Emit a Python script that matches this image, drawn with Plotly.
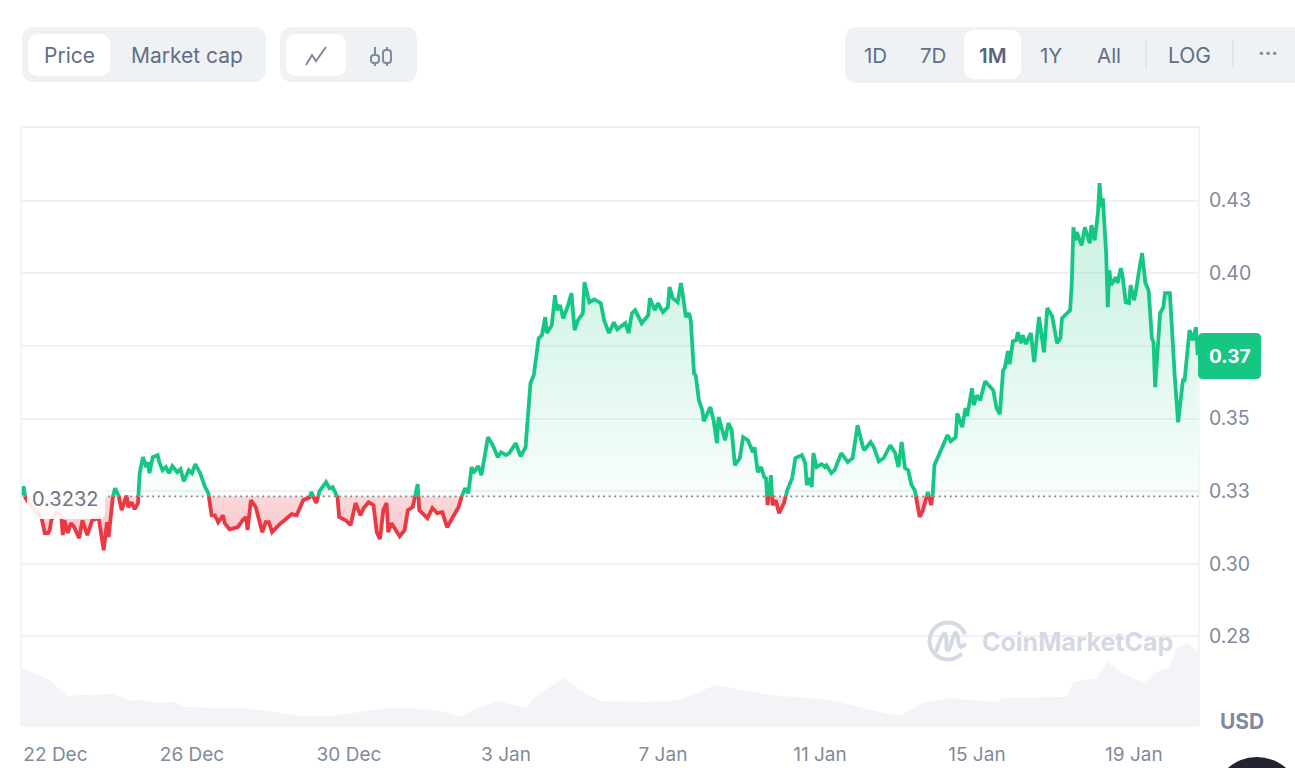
import numpy as np
import pandas as pd
import plotly.graph_objects as go

START = pd.Timestamp("2023-12-22 00:00")
BASE_PRICE = 0.3232

hours = [-8,-7,-6,-3,0,4,6,8,9,10,13,16,17,18,20,22,24,27,29,32,35,39,42,44,45,47,49,51,53,56,57,59,61,63,64,66,68,69,70,72,75,76,78,80,82,84,87,89,91,94,96,98,101,104,106,108,110,112,115,116,119,124,127,129,130,132,135,139,141,143,145,149,154,157,160,164,168,169,172,174,178,180,182,185,186,190,193,196,199,201,204,207,209,211,213,215,216,218,223,226,228,231,234,235,240,243,246,249,252,256,259,261,263,265,267,268,271,273,277,280,283,285,288,290,294,297,300,301,303,305,308,310,312,313,316,318,319,321,323,326,328,330,332,335,336,339,342,346,348,351,354,356,361,363,365,367,371,375,376,379,381,384,387,388,390,393,395,396,398,400,401,403,404,406,408,409,411,413,415,417,418,420,422,424,426,428,431,433,436,439,440,442,444,446,447,448,450,451,453,455,458,460,463,465,469,471,472,474,475,476,478,481,483,484,487,489,493,497,500,503,506,507,511,513,516,519,523,526,528,530,532,534,536,538,541,543,546,548,549,550,552,558,560,563,564,567,569,570,573,574,576,578,581,586,588,590,592,593,595,596,598,600,601,603,604,606,609,611,614,617,619,622,625,627,628,631,633,634,635,636,637,640,642,645,646,648,650,651,652,653,655,656,657,658,661,662,664,665,667,669,670,672,673,675,677,679,681,683,684,685,688,690,691,694,696,697,699,702,703,705,706,708,710,711]
prices = [0.3236,0.3267,0.3229,0.3202,0.3181,0.3157,0.3106,0.3106,0.3116,0.3150,0.3178,0.3167,0.3099,0.3150,0.3106,0.3140,0.3126,0.3088,0.3150,0.3099,0.3150,0.3157,0.3047,0.3143,0.3092,0.3219,0.3260,0.3236,0.3185,0.3236,0.3195,0.3212,0.3188,0.3209,0.3312,0.3367,0.3333,0.3350,0.3312,0.3367,0.3374,0.3350,0.3322,0.3333,0.3312,0.3336,0.3315,0.3326,0.3284,0.3322,0.3312,0.3343,0.3312,0.3264,0.3243,0.3167,0.3167,0.3143,0.3167,0.3140,0.3119,0.3126,0.3150,0.3161,0.3116,0.3219,0.3195,0.3109,0.3143,0.3143,0.3109,0.3133,0.3157,0.3171,0.3167,0.3219,0.3229,0.3247,0.3209,0.3250,0.3281,0.3260,0.3264,0.3229,0.3161,0.3150,0.3133,0.3209,0.3167,0.3192,0.3212,0.3202,0.3109,0.3085,0.3185,0.3209,0.3109,0.3140,0.3095,0.3116,0.3185,0.3195,0.3274,0.3185,0.3157,0.3192,0.3174,0.3178,0.3126,0.3167,0.3195,0.3233,0.3260,0.3243,0.3333,0.3312,0.3336,0.3305,0.3436,0.3408,0.3367,0.3384,0.3374,0.3381,0.3415,0.3370,0.3401,0.3477,0.3622,0.3649,0.3776,0.3787,0.3849,0.3794,0.3821,0.3924,0.3873,0.3890,0.3845,0.3890,0.3931,0.3804,0.3838,0.3862,0.3969,0.3900,0.3910,0.3897,0.3838,0.3794,0.3831,0.3807,0.3828,0.3794,0.3862,0.3873,0.3828,0.3855,0.3914,0.3873,0.3897,0.3866,0.3883,0.3952,0.3914,0.3900,0.3966,0.3931,0.3849,0.3862,0.3838,0.3656,0.3649,0.3563,0.3529,0.3491,0.3518,0.3539,0.3494,0.3415,0.3505,0.3470,0.3425,0.3484,0.3460,0.3339,0.3364,0.3436,0.3425,0.3384,0.3401,0.3315,0.3333,0.3298,0.3295,0.3202,0.3305,0.3202,0.3219,0.3174,0.3209,0.3253,0.3295,0.3364,0.3374,0.3346,0.3271,0.3295,0.3264,0.3381,0.3333,0.3343,0.3333,0.3339,0.3312,0.3322,0.3381,0.3350,0.3364,0.3477,0.3408,0.3391,0.3419,0.3401,0.3353,0.3364,0.3408,0.3381,0.3333,0.3419,0.3329,0.3322,0.3271,0.3253,0.3161,0.3185,0.3247,0.3202,0.3243,0.3339,0.3367,0.3443,0.3422,0.3436,0.3518,0.3470,0.3536,0.3508,0.3604,0.3546,0.3580,0.3563,0.3628,0.3597,0.3536,0.3515,0.3666,0.3673,0.3732,0.3687,0.3766,0.3769,0.3797,0.3759,0.3787,0.3756,0.3794,0.3694,0.3849,0.3728,0.3880,0.3852,0.3759,0.3776,0.3845,0.3862,0.3873,0.3966,0.4158,0.4113,0.4141,0.4096,0.4158,0.4103,0.4165,0.4113,0.4206,0.4310,0.4227,0.4258,0.4069,0.3883,0.4010,0.3959,0.3986,0.3966,0.4017,0.3993,0.3900,0.3897,0.3959,0.3907,0.3931,0.4003,0.4069,0.3966,0.3941,0.3776,0.3763,0.3608,0.3862,0.3883,0.3931,0.3931,0.3701,0.3642,0.3487,0.3632,0.3632,0.3769,0.3804,0.3769,0.3814,0.3718]

volume_hours = [-9,2,8,20,29,48,59,65,75,85,91,126,142,161,182,215,229,248,261,269,283,301,305,323,337,346,376,394,416,449,486,517,529,543,558,588,592,631,635,649,656,664,678,686,694,698,705,712]
volume_millions = [29.5,25.5,23.5,15,15.5,16,12.5,13,11.5,12,9.5,9,7.5,5,5,9,9,7.5,4.5,8.5,12.5,9,14,24,16,12.5,12,13,20.5,15.5,13,7,5,11.5,14,12,14,14.5,22,24,32,27,21.5,27,29.5,39,41.5,36.5]

price_ticks = [0.275,0.30,0.325,0.35,0.375,0.40,0.425]
price_tick_labels = ["0.28","0.30","0.33","0.35","","0.40","0.43"]
date_ticks = ["2023-12-22 12:30","2023-12-26","2023-12-30","2024-01-03","2024-01-07","2024-01-11","2024-01-15","2024-01-19"]
date_tick_labels = ["22 Dec","26 Dec","30 Dec","3 Jan","7 Jan","11 Jan","15 Jan","19 Jan"]

GREEN = "#16c784"
RED = "#ea3943"
GRID = "#eff2f5"
MUTED = "#808a9d"
BUTTON_TEXT = "#616e85"
FONT = "Inter"

# plot rectangle in the page
L, R, T, B = 21, 1199, 127, 726
W, H = 1295, 768
def X(px): return (px - L) / (R - L)
def Y(py): return (B - py) / (B - T)

def when(h):
    return [START + pd.Timedelta(hours=float(v)) for v in h]

# add the points where the line crosses the reference price, so colours switch cleanly
xs, ys = [hours[0]], [prices[0]]
for h0, p0, h1, p1 in zip(hours[:-1], prices[:-1], hours[1:], prices[1:]):
    if (p0 - BASE_PRICE) * (p1 - BASE_PRICE) < 0:
        xs.append(h0 + (BASE_PRICE - p0) / (p1 - p0) * (h1 - h0))
        ys.append(BASE_PRICE)
    xs.append(h1); ys.append(p1)
xs, ys = np.array(xs), np.array(ys)
upper = np.maximum(ys, BASE_PRICE)
lower = np.minimum(ys, BASE_PRICE)
line_up = np.where(ys >= BASE_PRICE, ys, np.nan)
line_down = np.where(ys <= BASE_PRICE, ys, np.nan)
t = when(xs)

fig = go.Figure()
fig.add_trace(go.Scatter(x=when(volume_hours), y=volume_millions, yaxis="y2", mode="lines",
                         line=dict(width=0), fill="tozeroy", fillcolor="#f3f4f7", hoverinfo="skip"))
fig.add_trace(go.Scatter(x=t, y=[BASE_PRICE]*len(t), mode="lines", line=dict(width=0), hoverinfo="skip"))
fig.add_trace(go.Scatter(x=t, y=upper, mode="lines", line=dict(width=0), fill="tonexty", hoverinfo="skip",
                         fillgradient=dict(type="vertical", start=BASE_PRICE, stop=0.40,
                                           colorscale=[[0,"rgba(22,199,132,0.03)"],[1,"rgba(22,199,132,0.20)"]])))
fig.add_trace(go.Scatter(x=t, y=[BASE_PRICE]*len(t), mode="lines", line=dict(width=0), hoverinfo="skip"))
fig.add_trace(go.Scatter(x=t, y=lower, mode="lines", line=dict(width=0), fill="tonexty", hoverinfo="skip",
                         fillgradient=dict(type="vertical", start=0.305, stop=BASE_PRICE,
                                           colorscale=[[0,"rgba(234,57,67,0.30)"],[1,"rgba(234,57,67,0.20)"]])))
fig.add_trace(go.Scatter(x=when([-9, 712]), y=[BASE_PRICE, BASE_PRICE], mode="lines", hoverinfo="skip",
                         line=dict(color="#777f8f", width=1.8, dash="1.8px,3.7px")))
fig.add_trace(go.Scatter(x=t, y=line_up, mode="lines", line=dict(color=GREEN, width=3.8), connectgaps=False))
fig.add_trace(go.Scatter(x=t, y=line_down, mode="lines", line=dict(color=RED, width=3.8), connectgaps=False))

def rrect(x0, y0, x1, y1, r):
    c = [f"M{X(x0+r)},{Y(y0)}", f"L{X(x1-r)},{Y(y0)}", f"Q{X(x1)},{Y(y0)} {X(x1)},{Y(y0+r)}",
         f"L{X(x1)},{Y(y1-r)}", f"Q{X(x1)},{Y(y1)} {X(x1-r)},{Y(y1)}", f"L{X(x0+r)},{Y(y1)}",
         f"Q{X(x0)},{Y(y1)} {X(x0)},{Y(y1-r)}", f"L{X(x0)},{Y(y0+r)}", f"Q{X(x0)},{Y(y0)} {X(x0+r)},{Y(y0)}", "Z"]
    return " ".join(c)

def poly(points):
    return "M" + " L".join(f"{X(a)},{Y(b)}" for a, b in points)

def solid(path, color, opacity=1):
    return dict(type="path", xref="paper", yref="paper", path=path, fillcolor=color,
                line=dict(width=0), opacity=opacity, layer="above")

def stroke(path, color, width):
    return dict(type="path", xref="paper", yref="paper", path=path, fillcolor="rgba(0,0,0,0)",
                line=dict(color=color, width=width), layer="above")

shapes = [
    solid(rrect(22, 27, 266, 82, 13), "#eff2f5"),
    solid(rrect(28, 34, 110, 76, 11), "#ffffff"),
    solid(rrect(280, 27, 417, 82, 13), "#eff2f5"),
    solid(rrect(286, 34, 346, 76, 11), "#ffffff"),
    solid(rrect(845, 27, 1320, 83, 13), "#eff2f5"),
    solid(rrect(964, 30, 1021, 79, 11), "#ffffff"),
    stroke(poly([(1146, 41), (1146, 68)]), "#cfd6e4", 1),
    stroke(poly([(1233, 41), (1233, 68)]), "#cfd6e4", 1),
    stroke(poly([(306, 65), (312, 55), (316, 61), (326, 47)]), MUTED, 2),
    stroke(poly([(375, 47), (375, 55)]), MUTED, 2),
    stroke(poly([(375, 63), (375, 66)]), MUTED, 2),
    stroke(poly([(387, 47), (387, 50)]), MUTED, 2),
    stroke(poly([(387, 63), (387, 66)]), MUTED, 2),
    stroke(rrect(371, 55, 379, 63, 3), MUTED, 2),
    stroke(rrect(383, 50, 391, 63, 3), MUTED, 2),
    # plot frame
    stroke(poly([(L, T), (R, T)]), GRID, 2),
    stroke(poly([(R, T), (R, B)]), GRID, 1.5),
    stroke(poly([(L, T), (L, B)]), GRID, 1.5),
    stroke(poly([(L, B), (R, B)]), GRID, 1),
    # reference price label
    solid(rrect(27, 485, 105, 519, 6), "#ffffff", 0.9),
    # current price tag
    solid(rrect(1198, 333, 1261, 379, 5), GREEN),
    # chat bubble, cut off by the page edge
    dict(type="circle", xref="paper", yref="paper", x0=X(1213), x1=X(1301), y0=Y(845), y1=Y(757),
         fillcolor="#222531", line=dict(width=0), layer="above"),
]

# watermark logo
a = np.radians(np.arange(50, 345, 12))
ring = [(948 + 18.5 * np.cos(v), 641 + 18.5 * np.sin(v)) for v in a]
ring = [(962, 654)] + ring
shapes.append(stroke(poly(ring), "#d5d9e5", 4))
shapes.append(stroke("M" + f"{X(936)},{Y(652)} " +
                     f"C{X(940)},{Y(640)} {X(943)},{Y(632)} {X(945)},{Y(634)} " +
                     f"C{X(948)},{Y(638)} {X(945)},{Y(650)} {X(948)},{Y(650)} " +
                     f"C{X(951)},{Y(650)} {X(953)},{Y(632)} {X(956)},{Y(633)} " +
                     f"C{X(959)},{Y(634)} {X(957)},{Y(646)} {X(961)},{Y(647)} L{X(966)},{Y(644)}",
                     "#d5d9e5", 4))

def text(px, py, s, size, color=BUTTON_TEXT, weight=400, anchor="center"):
    return dict(text=s, xref="paper", yref="paper", x=X(px), y=Y(py), xanchor=anchor, yanchor="middle",
                showarrow=False, font=dict(family=FONT, size=size, color=color, weight=weight))

annotations = [
    text(69, 55, "Price", 21),
    text(187, 55, "Market cap", 21),
    text(875, 55, "1D", 20.5),
    text(933, 55, "7D", 20.5),
    text(993, 55, "1M", 20.5, "#58667e", 600),
    text(1051, 55, "1Y", 20.5),
    text(1109, 55, "All", 20.5),
    text(1189, 55, "LOG", 21),
    text(1268, 53, "···", 20, MUTED, 700),
    text(64.5, 499, "0.3232", 20, "#6b7588"),
    text(1229, 356, "0.37", 19, "#ffffff", 700),
    text(1242, 721, "USD", 21, MUTED, 700),
    text(1077, 642, "CoinMarketCap", 25, "#d5d9e5", 700),
]

fig.update_layout(
    width=W, height=H, margin=dict(l=L, r=W-R, t=T, b=H-B, pad=0, autoexpand=False), showlegend=False,
    paper_bgcolor="#ffffff", plot_bgcolor="#ffffff", hovermode=False,
    font=dict(family=FONT, color=MUTED),
    xaxis=dict(type="date", automargin=False, range=[START + pd.Timedelta(hours=-8.56), START + pd.Timedelta(hours=711.8)],
               tickmode="array", tickvals=date_ticks, ticktext=date_tick_labels, showgrid=False, zeroline=False,
               showline=False, ticks="outside", ticklen=11, tickcolor="rgba(0,0,0,0)",
               tickfont=dict(family=FONT, size=19, color=MUTED)),
    yaxis=dict(side="right", automargin=False, range=[0.2442, 0.4503], tickmode="array", tickvals=price_ticks,
               ticktext=price_tick_labels, showgrid=True, gridcolor=GRID, gridwidth=1.5, zeroline=False,
               showline=False, ticks="outside", ticklen=5, tickcolor="rgba(0,0,0,0)",
               tickfont=dict(family=FONT, size=19.5, color=MUTED)),
    yaxis2=dict(overlaying="y", range=[0, 299.5], visible=False, automargin=False),
    shapes=shapes, annotations=annotations,
)

fig.write_html("out.html", config=dict(displayModeBar=False),
               post_script="document.body.style.margin='0';document.body.style.overflow='hidden';")
